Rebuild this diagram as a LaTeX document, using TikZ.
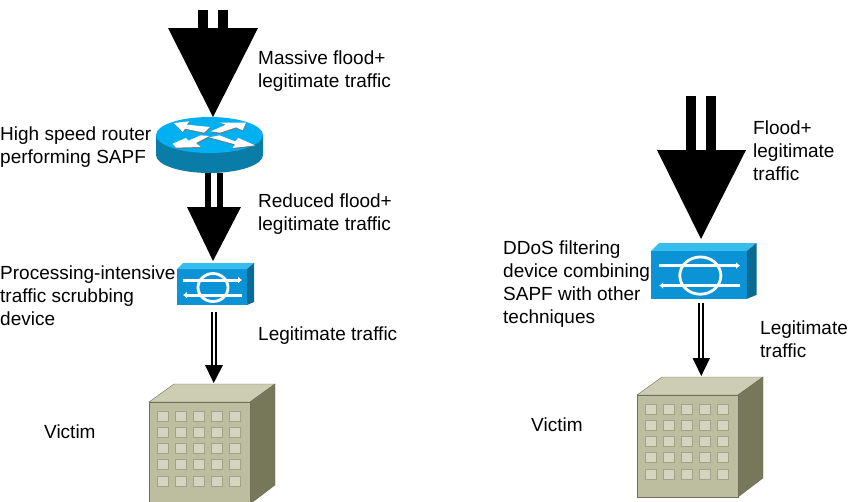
\documentclass[tikz,border=0pt]{standalone}
\usepackage{fontspec}
\setmainfont{Liberation Sans}
\definecolor{routertop}{HTML}{00B0F0}
\definecolor{routerside}{HTML}{0A7CA8}
\definecolor{boxfront}{HTML}{0C93D6}
\definecolor{boxtop}{HTML}{35BDEE}
\definecolor{boxside}{HTML}{0A6A94}
\definecolor{wallfront}{HTML}{BDBDA0}
\definecolor{walltop}{HTML}{CDCDB4}
\definecolor{wallside}{HTML}{77785A}
\definecolor{wallline}{HTML}{6E705A}
\definecolor{glass}{HTML}{D4D4C0}
\definecolor{frame}{HTML}{A2A28A}
\usetikzlibrary{arrows.meta}
\tikzset{
  label/.style={inner sep=0pt, anchor=west, align=left, font=\fontsize{19}{23}\selectfont},
  head/.style={fill=black},
  thinstem/.style={double=white, double distance=2pt, line width=2pt, draw=black},
  turn/.style={fill=white, preaction={fill=black!55, transform canvas={xshift=.4pt, yshift=-1pt}}},
  pics/scrubber/.style={code={
    \fill[boxfront] (0,6) rectangle (70,42);
    \fill[boxtop] (0,6) -- (6,0) -- (77,0) -- (70,6) -- cycle;
    \fill[boxside] (70,6) -- (77,0) -- (77,39) -- (70,42) -- cycle;
    \draw[white, line width=2.8pt] (36,24.5) ellipse (15 and 14);
    \draw[white, line width=3pt, -{Latex[length=4pt,width=7pt]}] (6,17) -- (65,17);
    \draw[white, line width=3pt, -{Latex[length=4pt,width=7pt]}] (65,32) -- (6,32);
  }},
  pics/tower/.style={code={
    \fill[walltop, draw=wallline] (0,18) -- (25,0) -- (126,0) -- (101,18) -- cycle;
    \fill[wallside, draw=wallline] (101,18) -- (126,0) -- (126,101) -- (101,120) -- cycle;
    \fill[wallfront, draw=wallline] (0,18) rectangle (101,120);
    \foreach \col in {8,26,44,62,80} {
      \foreach \row in {27,43,59,75,92} {
        \fill[glass, draw=frame, line width=1.3pt] (\col+.5,\row+.5) rectangle +(11,10);
      }
    }
  }}
}
\begin{document}
\begin{tikzpicture}[x=1pt, y=-1pt]
  \clip (0,0) rectangle (850,501);
  \fill[white] (0,0) rectangle (850,501);
  % left column
  \coordinate (massivetip) at (213,117);
  \fill[head] (198,10) rectangle (208,29);
  \fill[head] (218,10) rectangle (228,29);
  \fill[head] (168,28) -- (258,28) -- (massivetip) -- cycle;
  \node[label] (massive) at (258,71) {Massive flood+\\legitimate traffic};
  % router
  \fill[routerside] (156,135) -- (156,155) arc[start angle=180, end angle=0, x radius=53.5, y radius=18] -- (263,135) -- cycle;
  \fill[routertop] (209.5,135) ellipse (53.5 and 18);
  \begin{scope}[shift={(170,112)}, x=1/3pt, y=-1/3pt]
    \fill[turn] (12,33) -- (58,28) -- (50,38) -- (120,45) -- (102,62) -- (45,50) -- (38,60) -- cycle;
    \fill[turn] (228,32) -- (218,55) -- (198,46) -- (150,62) -- (122,58) -- (168,38) -- (150,32) -- cycle;
    \fill[turn] (8,95) -- (48,78) -- (55,86) -- (92,70) -- (118,72) -- (78,93) -- (92,105) -- (18,107) -- cycle;
    \fill[turn] (118,76) -- (148,70) -- (195,88) -- (205,78) -- (255,100) -- (188,108) -- (195,97) -- cycle;
  \end{scope}
  \node[label] (routerlabel) at (0,147) {High speed router\\performing SAPF};
  \coordinate (reducedtip) at (213,261);
  \fill[head] (205,173) rectangle (211,208);
  \fill[head] (217,173) rectangle (223,208);
  \fill[head] (187,207) -- (241,207) -- (reducedtip) -- cycle;
  \node[label] (reduced) at (258,214) {Reduced flood+\\legitimate traffic};
  \pic at (177,263) {scrubber};
  \node[label] (scrublabel) at (0,296) {Processing-intensive\\traffic scrubbing\\device};
  \coordinate (cleantop) at (213.7,312);
  \coordinate (cleanneck) at (213.7,366);
  \coordinate (cleantip) at (213.7,383);
  \draw[thinstem] (cleantop) -- (cleanneck);
  \fill[head] (205,365) -- (223,365) -- (cleantip) -- cycle;
  \node[label] (cleanlabel) at (258,336) {Legitimate traffic};
  \pic at (149,384) {tower};
  \node[label] (victimleft) at (44,432) {Victim};
  % right column
  \coordinate (floodtip) at (701,239);
  \fill[head] (686,96) rectangle (696,151);
  \fill[head] (706,96) rectangle (716,151);
  \fill[head] (657,150) -- (746,150) -- (floodtip) -- cycle;
  \node[label] (flood) at (753,151) {Flood+\\legitimate\\traffic};
  \pic[xscale=1.37, yscale=1.33] at (651,243) {scrubber};
  \node[label] (ddos) at (503,284) {DDoS filtering\\device combining\\SAPF with other\\techniques};
  \coordinate (passtop) at (701.3,303);
  \coordinate (passneck) at (701.3,359);
  \coordinate (passtip) at (701.3,376);
  \draw[thinstem] (passtop) -- (passneck);
  \fill[head] (692.5,358) -- (710,358) -- (passtip) -- cycle;
  \node[label] (passlabel) at (760,339.5) {Legitimate\\traffic};
  \pic at (637,377) {tower};
  \node[label] (victimright) at (531,425) {Victim};
\end{tikzpicture}
\end{document}
